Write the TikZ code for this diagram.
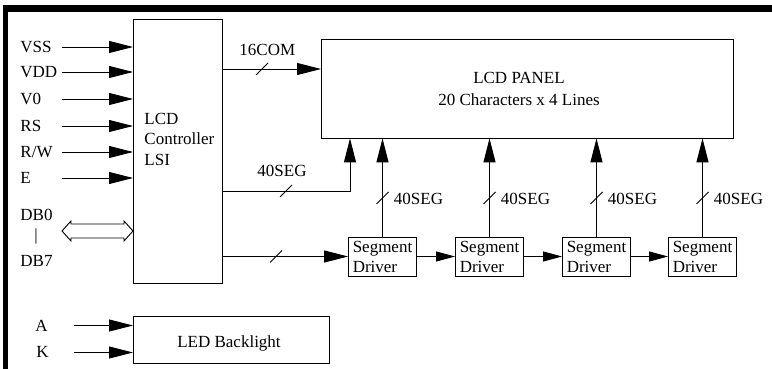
\documentclass[tikz,border=0pt]{standalone}
\usepackage{fontspec}
\setmainfont{Liberation Serif}
\usetikzlibrary{arrows.meta}
\newcommand\busslash[1]{\draw ([shift={(-6,6)}]#1) -- ([shift={(6,-6)}]#1);}
\begin{document}
\begin{tikzpicture}[x=1pt,y=-1pt,
  font=\fontsize{17}{20.7}\selectfont, line width=0.9pt,
  arr/.style={-{Triangle[length=24pt,width=12pt]}},
  arrs/.style={-{Triangle[length=19pt,width=10pt]}},
  box/.style={draw, inner sep=0pt, anchor=north west},
  lbl/.style={anchor=base west, inner sep=0pt},
  drv/.style={draw, minimum width=68pt, minimum height=39pt, inner sep=0pt,
    align=left, font=\fontsize{17}{20}\selectfont}]
\useasboundingbox (0,0) rectangle (772,369);
% frame bars
\fill (3,5) rectangle (772,12);
\fill (3,5) rectangle (8,369);
% boxes
\node[box, minimum width=89pt, minimum height=264pt] (ctrl) at (133,19) {};
\node[box, minimum width=412pt, minimum height=98.5pt] (panel) at (321,39) {};
\node[box, minimum width=196pt, minimum height=47pt] (led) at (133,316) {};
\node[anchor=west, inner sep=0pt, align=left] (ctrltxt) at (144,139.3) {LCD\\Controller\\LSI};
\node[inner sep=0pt, align=center, font=\fontsize{17}{22}\selectfont] (paneltxt) at (519,89.4) {LCD PANEL\\20 Characters x 4 Lines};
\node[inner sep=0pt] (ledtxt) at (229,343) {LED Backlight};
% segment drivers
\node[drv] (d1) at (382.5,256.5) {Segment\\Driver};
\node[drv] (d2) at (489.5,256.5) {Segment\\Driver};
\node[drv] (d3) at (596.5,256.5) {Segment\\Driver};
\node[drv] (d4) at (702.5,256.5) {Segment\\Driver};
% input pins
\node[lbl] (lvss) at (20,52.3) {VSS};
\node[lbl] (lvdd) at (20,77.3) {VDD};
\node[lbl] (lvz) at (20,104.3) {V0};
\node[lbl] (lrs) at (20,131.3) {RS};
\node[lbl] (lrw) at (20,157.3) {R/W};
\node[lbl] (le) at (20,183.3) {E};
\coordinate (svss) at (62,47);
\coordinate (svdd) at (62,72);
\coordinate (svz) at (62,99);
\coordinate (srs) at (62,126);
\coordinate (srw) at (62,152);
\coordinate (se) at (62,178);
\foreach \s in {svss,svdd,svz,srs,srw,se}
  \draw[arr] (\s) -- (\s -| ctrl.west);
% data bus
\node[lbl] (ldb0) at (20,220) {DB0};
\node[anchor=base, inner sep=0pt] (lbar) at (36,240) {|};
\node[lbl] (ldb7) at (20,266) {DB7};
\coordinate (dbl) at (62,231);
\coordinate (dbr) at (ctrl.west |- dbl);
\draw[line join=miter] (dbl) -- ++(9,-10) -- ++(0,3) -- ++(53,0) -- ++(0,-3) -- (dbr)
  -- ++(-9,10) -- ++(0,-3) -- ++(-53,0) -- ++(0,3) -- cycle;
% backlight
\node[lbl] (la) at (35,331.5) {A};
\node[lbl] (lk) at (36,357.3) {K};
\coordinate (sa) at (74,325.5);
\coordinate (sk) at (74,352.5);
\draw[arr] (sa) -- (sa -| led.west);
\draw[arr] (sk) -- (sk -| led.west);
% 16COM
\coordinate (rcom) at (0,69);
\draw[arr] (ctrl.east |- rcom) -- (rcom -| panel.west);
\node[lbl] (lcom) at (239,56) {16COM};
\busslash{262,69}
% 40SEG from controller
\coordinate (segc) at (350,191);
\draw[arr] (ctrl.east |- segc) -- (segc) -- (segc |- panel.south);
\node[lbl] (lseg0) at (257,176) {40SEG};
\busslash{286,191}
% controller to first driver
\draw[arr] (ctrl.east |- d1.west) -- (d1.west);
\busslash{276,256.5}
% driver chain
\draw[arrs] (d1.east) -- (d2.west);
\draw[arrs] (d2.east) -- (d3.west);
\draw[arrs] (d3.east) -- (d4.west);
% driver outputs to panel
\foreach \d/\x in {d1/382.5,d2/489.5,d3/596.5,d4/702.5}{
  \draw[arr] (\d.north) -- (\d.north |- panel.south);
  \busslash{\x,198}
  \node[lbl] at (\x+11,204) {40SEG};
}
\end{tikzpicture}
\end{document}
